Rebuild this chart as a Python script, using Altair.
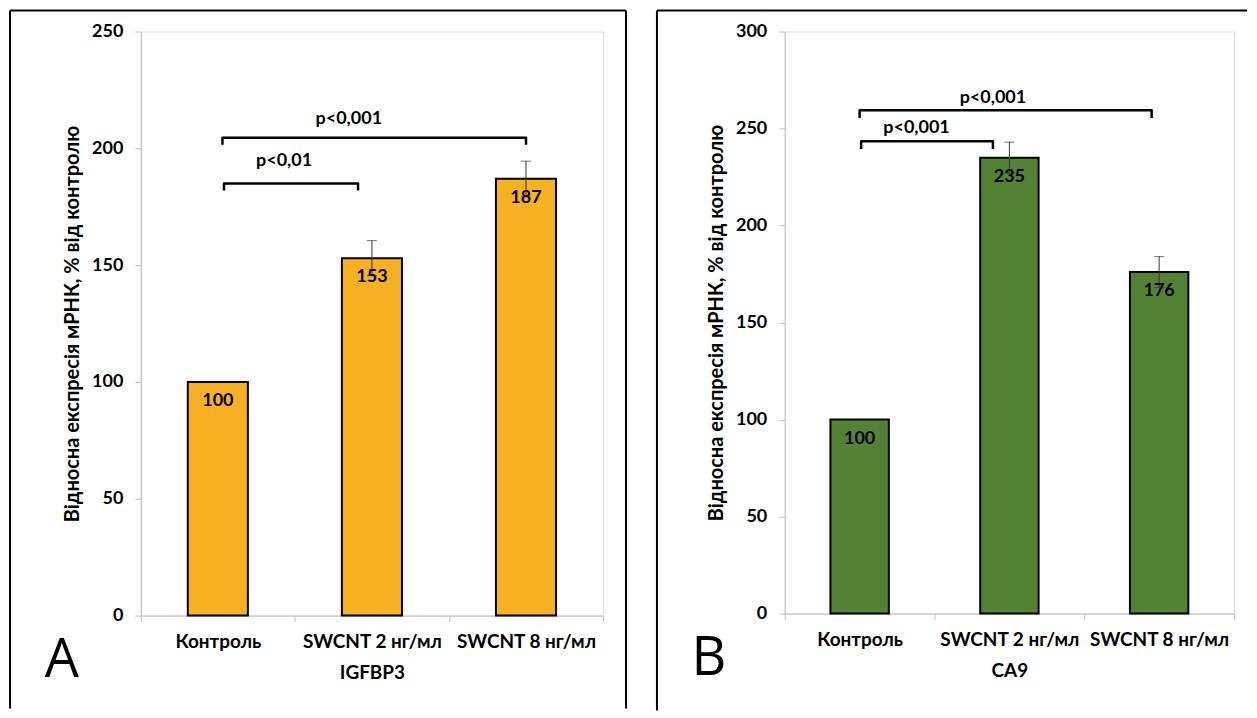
import altair as alt
import pandas as pd

FONT = "Lato"

categories = ["Контроль", "SWCNT 2 нг/мл", "SWCNT 8 нг/мл"]

# Panel A: IGFBP3
igfbp3_values = [100, 153, 187]
igfbp3_errors = [0, 7.5, 7.5]
# significance brackets (x in category units 0..3, y in %)
igfbp3_br_x1 = [0.54, 0.53]
igfbp3_br_x2 = [1.41, 2.50]
igfbp3_br_y = [185, 204.5]
igfbp3_br_leg = [3, 3]
igfbp3_p_text = ["p<0,01", "p<0,001"]
igfbp3_p_x = [0.93, 1.35]
igfbp3_p_y = [194.4, 212.4]

# Panel B: CA9
ca9_values = [100, 235, 176]
ca9_errors = [0, 8, 8]
ca9_br_x1 = [0.51, 0.50]
ca9_br_x2 = [1.39, 2.45]
ca9_br_y = [243.4, 259.4]
ca9_br_leg = [4, 4]
ca9_p_text = ["p<0,001", "p<0,001"]
ca9_p_x = [0.88, 1.39]
ca9_p_y = [250.1, 265.6]

Y_TITLE = "Відносна експресія мРНК, % від контролю"


def panel(values, errors, color, ymax, gene, letter,
          br_x1, br_x2, br_y, br_leg, p_text, p_x, p_y,
          width, height, frame_left, frame_right, frame_top, frame_bottom,
          draw_right=True):
    df = pd.DataFrame({"cat": categories, "value": values, "err": errors})
    df["lo"] = df["value"] - df["err"]
    df["hi"] = df["value"] + df["err"]
    dferr = df[df["err"] > 0]

    xenc = alt.X(
        "cat:N", sort=categories,
        scale=alt.Scale(paddingInner=0, paddingOuter=0),
        axis=alt.Axis(
            title=gene, labelAngle=0, tickBand="extent",
            domainColor="#BFBFBF", tickColor="#BFBFBF", tickSize=6,
            labelFont=FONT, labelFontSize=19, labelFontWeight="bold",
            labelColor="black", labelPadding=11,
            titleFont=FONT, titleFontSize=19, titleFontWeight="bold",
            titleColor="black", titlePadding=12,
        ),
    )
    yscale = alt.Scale(domain=[0, ymax], nice=False)
    yaxis = alt.Axis(
        title=Y_TITLE, tickCount=6, grid=False,
        domainColor="#BFBFBF", tickColor="#BFBFBF", tickSize=6,
        labelFont=FONT, labelFontSize=18, labelFontWeight="bold",
        labelColor="black", labelPadding=12,
        titleFont=FONT, titleFontSize=20, titleFontWeight="bold",
        titleColor="black", titlePadding=9,
    )

    bars = alt.Chart(df).mark_bar(
        color=color, stroke="black", strokeWidth=2,
        width=alt.RelativeBandSize(0.39),
    ).encode(x=xenc, y=alt.Y("value:Q", scale=yscale, axis=yaxis))

    err_line = alt.Chart(dferr).mark_rule(color="#333333", strokeWidth=1).encode(
        x=alt.X("cat:N", sort=categories), y="lo:Q", y2="hi:Q")
    cap_hi = alt.Chart(dferr).mark_tick(color="#333333", thickness=1, size=10).encode(
        x=alt.X("cat:N", sort=categories), y="hi:Q")
    cap_lo = alt.Chart(dferr).mark_tick(color="#333333", thickness=1, size=10).encode(
        x=alt.X("cat:N", sort=categories), y="lo:Q")
    labels = alt.Chart(df).mark_text(
        dy=19, baseline="middle", font=FONT, fontSize=18, fontWeight="bold", color="black",
    ).encode(x=alt.X("cat:N", sort=categories), y="value:Q", text="value:Q")

    main = alt.layer(bars, err_line, cap_hi, cap_lo, labels)

    # brackets as paths
    rows = []
    for i in range(len(br_y)):
        pts = [(br_x1[i], br_y[i] - br_leg[i]), (br_x1[i], br_y[i]),
               (br_x2[i], br_y[i]), (br_x2[i], br_y[i] - br_leg[i])]
        for k, (px, py) in enumerate(pts):
            rows.append({"id": i, "k": k, "bx": px, "by": py})
    dbr = pd.DataFrame(rows)
    qx = alt.Scale(domain=[0, 3], nice=False, zero=False)
    brackets = alt.Chart(dbr).mark_line(
        color="black", strokeWidth=2.5, strokeJoin="round", strokeCap="butt",
    ).encode(
        x=alt.X("bx:Q", scale=qx, axis=None),
        y=alt.Y("by:Q", scale=yscale),
        detail="id:N", order="k:Q",
    )
    dp = pd.DataFrame({"t": p_text, "px": p_x, "py": p_y})
    ptext = alt.Chart(dp).mark_text(
        font=FONT, fontSize=18, fontWeight="bold", color="black", baseline="middle",
    ).encode(x=alt.X("px:Q", scale=qx, axis=None), y=alt.Y("py:Q", scale=yscale), text="t:N")
    ann = alt.layer(brackets, ptext)

    # panel letter
    dl = pd.DataFrame({"letter": [letter]})
    letter_mark = alt.Chart(dl).mark_text(
        font="Open Sans", fontSize=54, color="black", align="center", baseline="alphabetic",
    ).encode(x=alt.value(frame_left + 52), y=alt.value(height + 62), text="letter:N")

    # panel frame
    frame_parts = [
        alt.Chart(dl).mark_rule(color="black", strokeWidth=2).encode(
            x=alt.value(frame_left), y=alt.value(frame_top), y2=alt.value(frame_bottom)),
        alt.Chart(dl).mark_rule(color="black", strokeWidth=2).encode(
            x=alt.value(frame_left), x2=alt.value(frame_right), y=alt.value(frame_top)),
    ]
    if draw_right:
        frame_parts.append(
            alt.Chart(dl).mark_rule(color="black", strokeWidth=2).encode(
                x=alt.value(frame_right), y=alt.value(frame_top), y2=alt.value(frame_bottom)))

    return alt.layer(main, ann, letter_mark, *frame_parts).resolve_scale(x="independent").properties(
        width=width, height=height)


pA = panel(igfbp3_values, igfbp3_errors, "#F8B123", 250, "IGFBP3", "A",
           igfbp3_br_x1, igfbp3_br_x2, igfbp3_br_y, igfbp3_br_leg,
           igfbp3_p_text, igfbp3_p_x, igfbp3_p_y,
           width=463, height=585, frame_left=-131, frame_right=486,
           frame_top=-21, frame_bottom=678)
pB = panel(ca9_values, ca9_errors, "#548235", 300, "CA9", "B",
           ca9_br_x1, ca9_br_x2, ca9_br_y, ca9_br_leg,
           ca9_p_text, ca9_p_x, ca9_p_y,
           width=450, height=583, frame_left=-128, frame_right=463,
           frame_top=-21, frame_bottom=680, draw_right=False)

chart = alt.hconcat(pA, pB, spacing=27).properties(
    padding={"left": 0, "top": 0, "right": 0, "bottom": 0},
).configure_view(stroke=None).configure(background="white")

chart.save("out.html", embed_options={"renderer": "svg", "actions": False})
